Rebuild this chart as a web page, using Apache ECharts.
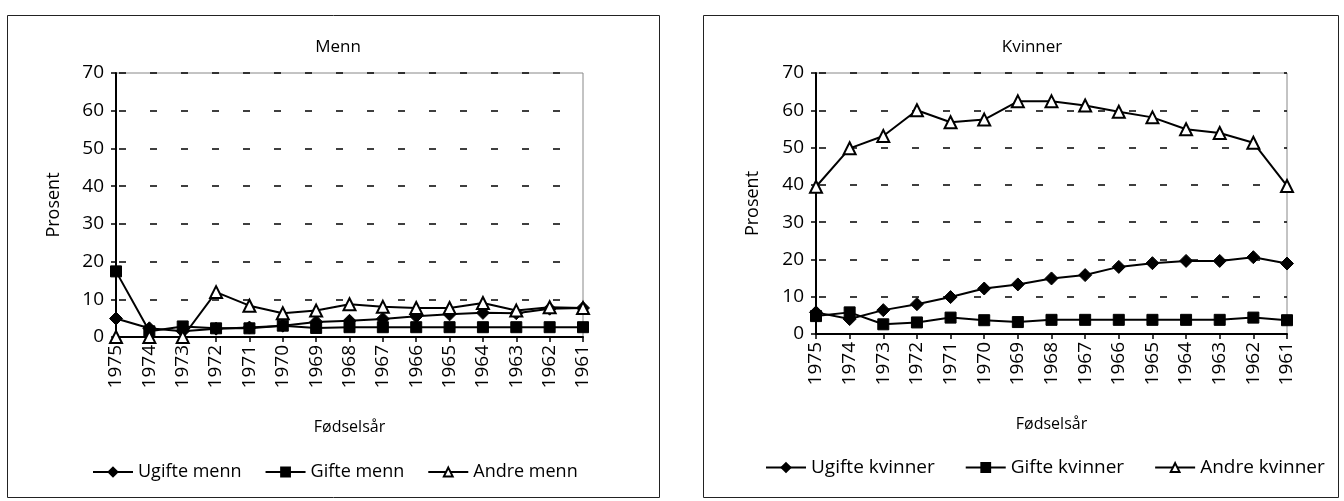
<!DOCTYPE html>
<html>
<head>
<meta charset="utf-8">
<script src="https://cdn.jsdelivr.net/npm/echarts@6/dist/echarts.min.js"></script>
<style>
html,body{margin:0;padding:0;background:#fff;}
#c{width:1344px;height:501px;}
</style>
</head>
<body>
<div id="c"></div>
<script>
// Data
const years = ['1975','1974','1973','1972','1971','1970','1969','1968','1967','1966','1965','1964','1963','1962','1961'];
const yTicks = [0,10,20,30,40,50,60,70];

const ugifteMenn = [4.9, 2.3, 1.5, 2.2, 2.5, 3.0, 4.0, 4.3, 4.8, 5.5, 6.0, 6.4, 6.3, 7.5, 7.7];
const gifteMenn  = [17.4, 1.5, 2.8, 2.3, 2.3, 3.0, 2.4, 2.6, 2.6, 2.6, 2.6, 2.6, 2.6, 2.6, 2.6];
const andreMenn  = [0, 0, 0, 11.9, 8.3, 6.3, 7.0, 8.7, 8.0, 7.7, 7.7, 9.0, 7.0, 7.9, 7.7];

const ugifteKvinner = [5.8, 4.0, 6.4, 8.0, 9.9, 12.2, 13.3, 14.9, 15.8, 18.0, 19.0, 19.6, 19.6, 20.6, 18.9];
const gifteKvinner  = [4.8, 5.8, 2.6, 3.1, 4.4, 3.7, 3.2, 3.8, 3.8, 3.8, 3.8, 3.8, 3.8, 4.4, 3.7];
const andreKvinner  = [39.5, 49.8, 53.1, 60.0, 56.8, 57.5, 62.4, 62.4, 61.3, 59.6, 58.1, 54.9, 53.9, 51.3, 39.7];

const FONT = '"Open Sans", "DejaVu Sans", sans-serif';

function lineSeries(name, data, symbol, idx, size, filled) {
  return {
    name: name, type: 'line', data: data,
    xAxisIndex: idx, yAxisIndex: idx,
    symbol: symbol, symbolSize: size,
    showAllSymbol: true,
    lineStyle: {color: '#000', width: 2},
    itemStyle: filled ? {color: '#000', borderColor: '#000', borderWidth: 1}
                      : {color: '#fff', borderColor: '#000', borderWidth: 2},
    emphasis: {disabled: true},
    animation: false
  };
}

function xAx(idx, gap) {
  return {
    type: 'category', data: years, gridIndex: idx, boundaryGap: false,
    axisLine: {lineStyle: {color: '#000', width: 2}},
    axisTick: {show: true, length: 5, lineStyle: {color: '#000', width: 1.5}},
    axisLabel: {rotate: 90, color: '#000', fontSize: 19, fontFamily: FONT, margin: 8, interval: 0},
    name: 'Fødselsår', nameLocation: 'middle', nameGap: gap,
    nameTextStyle: {color: '#000', fontSize: 16, fontFamily: FONT}
  };
}
function yAx(idx, gap) {
  return {
    type: 'value', gridIndex: idx, min: yTicks[0], max: yTicks[yTicks.length-1], interval: 10,
    axisLine: {show: true, lineStyle: {color: '#000', width: 2}},
    axisTick: {show: true, length: 5, lineStyle: {color: '#000', width: 1.5}},
    axisLabel: {color: '#000', fontSize: 19, fontFamily: FONT, margin: 12},
    splitLine: {show: true, lineStyle: {color: '#000', width: 1.5, type: [7, 24], dashOffset: -3}},
    name: 'Prosent', nameLocation: 'middle', nameGap: gap, nameRotate: 90,
    nameTextStyle: {color: '#000', fontSize: 18, fontFamily: FONT}
  };
}

const chart = echarts.init(document.getElementById('c'), null, {renderer: 'canvas'});
chart.setOption({
  backgroundColor: '#fff',
  animation: false,
  graphic: [
    {type: 'rect', shape: {x: 7.5, y: 15.5, width: 652, height: 482}, style: {fill: 'none', stroke: '#222', lineWidth: 1}, silent: true, z: -1},
    {type: 'rect', shape: {x: 703.5, y: 15.5, width: 635, height: 482}, style: {fill: 'none', stroke: '#222', lineWidth: 1}, silent: true, z: -1}
  ],
  title: [
    {text: 'Menn', left: 333, top: 34, textAlign: 'center', textStyle: {color: '#000', fontSize: 17, fontWeight: 'normal', fontFamily: FONT}},
    {text: 'Kvinner', left: 1027, top: 34, textAlign: 'center', textStyle: {color: '#000', fontSize: 17, fontWeight: 'normal', fontFamily: FONT}}
  ],
  legend: [
    {data: ['Ugifte menn','Gifte menn','Andre menn'], left: 87, top: 458, itemWidth: 40, itemHeight: 11, itemGap: 23,
     textStyle: {color: '#000', fontSize: 18, fontFamily: FONT}},
    {data: ['Ugifte kvinner','Gifte kvinner','Andre kvinner'], left: 760, top: 453, itemWidth: 40, itemHeight: 11, itemGap: 30,
     textStyle: {color: '#000', fontSize: 19, fontFamily: FONT}}
  ],
  grid: [
    {left: 116, top: 73, width: 467, height: 264, show: true, borderColor: '#888', borderWidth: 1, backgroundColor: 'transparent'},
    {left: 816, top: 73, width: 471, height: 261, show: true, borderColor: '#888', borderWidth: 1, backgroundColor: 'transparent'}
  ],
  xAxis: [xAx(0, 82), xAx(1, 82)],
  yAxis: [yAx(0, 53), yAx(1, 54)],
  series: [
    lineSeries('Ugifte menn', ugifteMenn, 'diamond', 0, 13, true),
    lineSeries('Gifte menn', gifteMenn, 'rect', 0, 11, true),
    lineSeries('Andre menn', andreMenn, 'triangle', 0, 12, false),
    lineSeries('Ugifte kvinner', ugifteKvinner, 'diamond', 1, 13, true),
    lineSeries('Gifte kvinner', gifteKvinner, 'rect', 1, 11, true),
    lineSeries('Andre kvinner', andreKvinner, 'triangle', 1, 12, false)
  ]
});
</script>
</body>
</html>
